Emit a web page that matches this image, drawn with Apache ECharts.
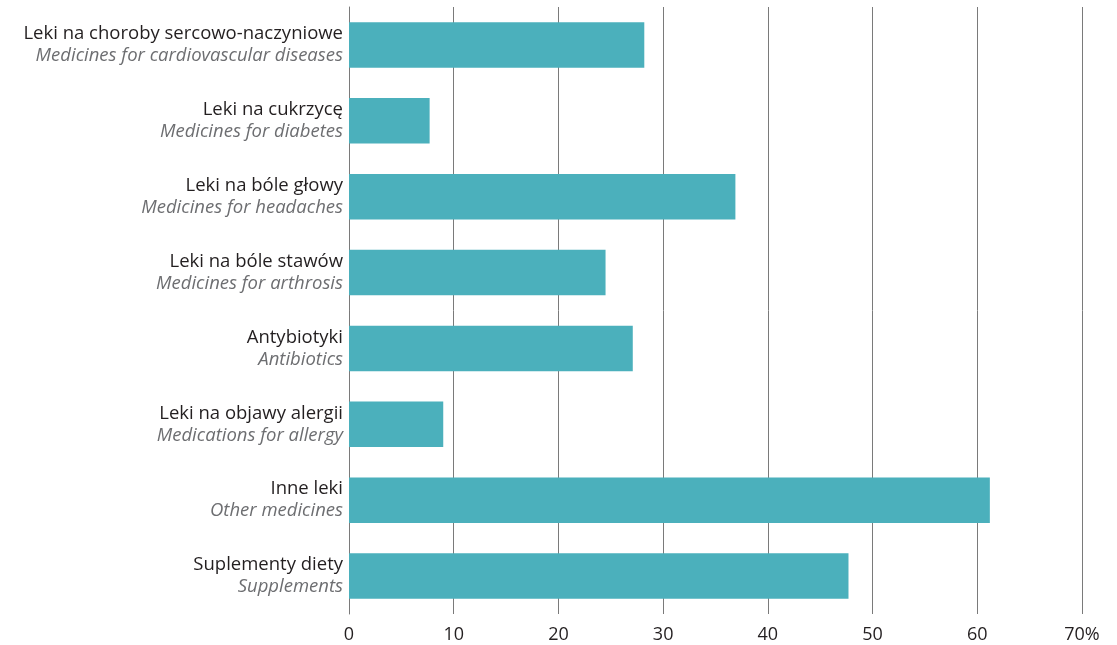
<!DOCTYPE html>
<html>
<head>
<meta charset="utf-8">
<script src="https://cdn.jsdelivr.net/npm/echarts@6/dist/echarts.min.js"></script>
<style>
html,body{margin:0;padding:0;background:#fff;}
#chart{width:1117px;height:645px;}
</style>
</head>
<body>
<div id="chart"></div>
<script>
var categoriesPL = [
  'Leki na choroby sercowo-naczyniowe',
  'Leki na cukrzycę',
  'Leki na bóle głowy',
  'Leki na bóle stawów',
  'Antybiotyki',
  'Leki na objawy alergii',
  'Inne leki',
  'Suplementy diety'
];
var categoriesEN = [
  'Medicines for cardiovascular diseases',
  'Medicines for diabetes',
  'Medicines for headaches',
  'Medicines for arthrosis',
  'Antibiotics',
  'Medications for allergy',
  'Other medicines',
  'Supplements'
];
var values = [28.2, 7.7, 36.9, 24.5, 27.1, 9.0, 61.2, 47.7];
var xTicks = [0, 10, 20, 30, 40, 50, 60, 70];

var cats = categoriesPL.map(function(p, i){ return p + '\n' + categoriesEN[i]; });

var chart = echarts.init(document.getElementById('chart'));
chart.setOption({
  animation: false,
  grid: {left: 349, right: 35, top: 7, bottom: 31, containLabel: false},
  xAxis: {
    type: 'value', min: xTicks[0], max: xTicks[xTicks.length - 1], interval: 10,
    axisLine: {show: false},
    axisTick: {show: false},
    splitLine: {show: true, lineStyle: {color: '#7a7a7a', width: 1}},
    axisLabel: {
      margin: 12, color: '#231f20', fontSize: 18, fontFamily: 'Open Sans',
      formatter: function(v){ return v === 70 ? '70%' : String(v); }
    }
  },
  yAxis: {
    type: 'category', inverse: true, data: cats,
    axisLine: {show: true, lineStyle: {color: '#7a7a7a', width: 1}},
    axisTick: {show: false},
    axisLabel: {
      margin: 6,
      formatter: function(v){
        var parts = v.split('\n');
        return '{a|' + parts[0] + '}\n{b|' + parts[1] + '}';
      },
      rich: {
        a: {fontSize: 18.5, color: '#231f20', fontFamily: 'Open Sans', lineHeight: 22, align: 'right'},
        b: {fontSize: 18.5, color: '#6d6e71', fontStyle: 'italic', fontFamily: 'Open Sans', lineHeight: 22, align: 'right'}
      }
    }
  },
  series: [{
    type: 'bar', data: values, barCategoryGap: '40%',
    itemStyle: {color: '#4bb0bc'}
  }]
});
</script>
</body>
</html>
